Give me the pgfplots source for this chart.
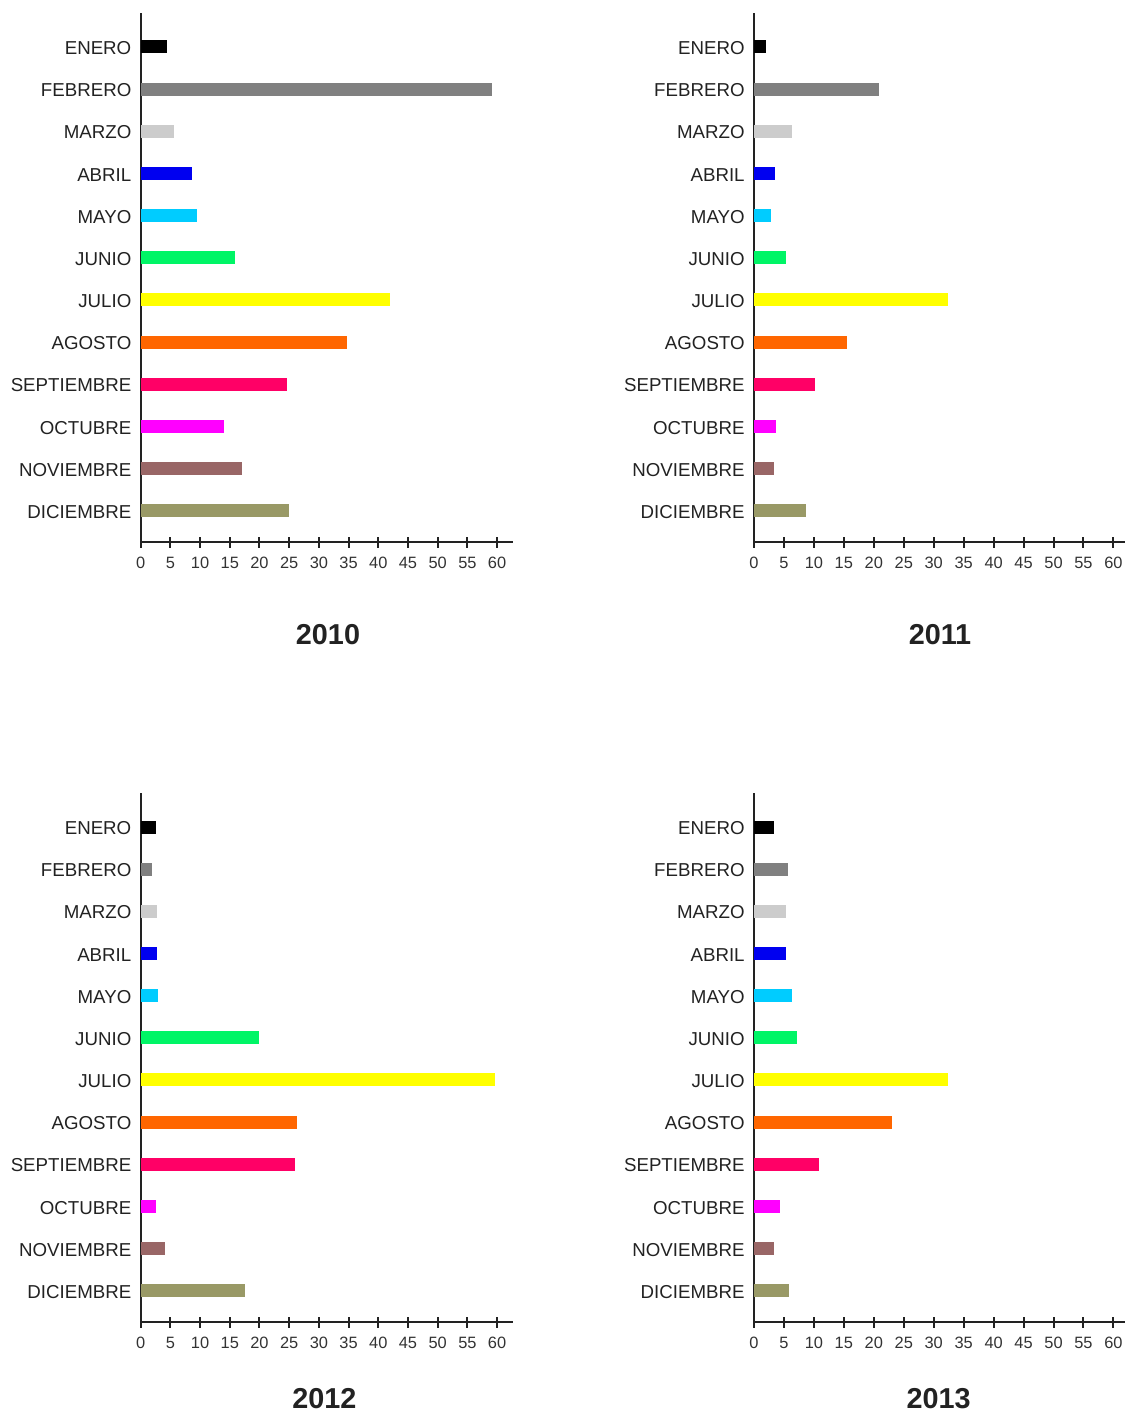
\documentclass[border=0pt]{standalone}
\usepackage{pgfplots}
\pgfplotsset{compat=1.18}
\usepackage{fontspec}
\setmainfont{Liberation Sans}
\definecolor{axc}{HTML}{222222}
\definecolor{lbc}{HTML}{222222}
\definecolor{tkc}{HTML}{333333}
\definecolor{m1}{HTML}{000000}
\definecolor{m2}{HTML}{808080}
\definecolor{m3}{HTML}{CCCCCC}
\definecolor{m4}{HTML}{0000F0}
\definecolor{m5}{HTML}{00CCFF}
\definecolor{m6}{HTML}{00F566}
\definecolor{m7}{HTML}{FFFF00}
\definecolor{m8}{HTML}{FF6600}
\definecolor{m9}{HTML}{FF0066}
\definecolor{m10}{HTML}{FF00FF}
\definecolor{m11}{HTML}{996666}
\definecolor{m12}{HTML}{999966}
\pgfplotsset{
  panel/.style={
    scale only axis, width=#1, height=264.8pt,
    xmin=0, ymin=-0.75, ymax=11.814,
    axis lines=left,
    axis line style={-, line width=1pt, draw=axc},
    clip=false,
    tick align=center, major tick length=5.5pt,
    xtick={0,5,...,60},
    xtick style={line width=1pt, draw=axc},
    ytick={0,...,11},
    ytick style={draw=none},
    yticklabels={DICIEMBRE,NOVIEMBRE,OCTUBRE,SEPTIEMBRE,AGOSTO,JULIO,JUNIO,MAYO,ABRIL,MARZO,FEBRERO,ENERO},
    xticklabel style={font=\fontsize{8.2}{9}\selectfont, text=tkc, anchor=north, inner sep=0pt, yshift=-4.5pt},
    yticklabel style={font=\fontsize{9.35}{11}\selectfont, text=lbc, anchor=east, inner sep=0pt, xshift=-1.75pt, yshift=-0.6pt},
    /pgf/number format/assume math mode=true,
    every axis plot/.append style={xbar, bar width=6.5pt, bar shift=0pt, draw=none},
  },
}
\tikzset{ttl/.style={font=\fontsize{14.4}{16}\selectfont\bfseries, text=lbc, inner sep=0pt, anchor=center}}
\begin{document}
\begin{tikzpicture}
\path[use as bounding box] (0,0) rectangle (563pt,706pt);
% 2010
\begin{axis}[panel=186.15pt, xmax=62.68, at={(70.35pt,434.85pt)}, anchor=south west]
\addplot[fill=m1] coordinates {(4.4,11)};
\addplot[fill=m2] coordinates {(59.1,10)};
\addplot[fill=m3] coordinates {(5.6,9)};
\addplot[fill=m4] coordinates {(8.6,8)};
\addplot[fill=m5] coordinates {(9.4,7)};
\addplot[fill=m6] coordinates {(15.8,6)};
\addplot[fill=m7] coordinates {(42.0,5)};
\addplot[fill=m8] coordinates {(34.8,4)};
\addplot[fill=m9] coordinates {(24.6,3)};
\addplot[fill=m10] coordinates {(14.1,2)};
\addplot[fill=m11] coordinates {(17.1,1)};
\addplot[fill=m12] coordinates {(25.0,0)};
\end{axis}
% 2011
\begin{axis}[panel=185.7pt, xmax=62, at={(377pt,434.85pt)}, anchor=south west]
\addplot[fill=m1] coordinates {(2.0,11)};
\addplot[fill=m2] coordinates {(20.8,10)};
\addplot[fill=m3] coordinates {(6.4,9)};
\addplot[fill=m4] coordinates {(3.5,8)};
\addplot[fill=m5] coordinates {(2.9,7)};
\addplot[fill=m6] coordinates {(5.3,6)};
\addplot[fill=m7] coordinates {(32.4,5)};
\addplot[fill=m8] coordinates {(15.5,4)};
\addplot[fill=m9] coordinates {(10.1,3)};
\addplot[fill=m10] coordinates {(3.6,2)};
\addplot[fill=m11] coordinates {(3.3,1)};
\addplot[fill=m12] coordinates {(8.6,0)};
\end{axis}
% 2012
\begin{axis}[panel=186.15pt, xmax=62.68, at={(70.35pt,44.85pt)}, anchor=south west]
\addplot[fill=m1] coordinates {(2.6,11)};
\addplot[fill=m2] coordinates {(1.9,10)};
\addplot[fill=m3] coordinates {(2.7,9)};
\addplot[fill=m4] coordinates {(2.7,8)};
\addplot[fill=m5] coordinates {(2.9,7)};
\addplot[fill=m6] coordinates {(20.0,6)};
\addplot[fill=m7] coordinates {(59.7,5)};
\addplot[fill=m8] coordinates {(26.3,4)};
\addplot[fill=m9] coordinates {(26.0,3)};
\addplot[fill=m10] coordinates {(2.6,2)};
\addplot[fill=m11] coordinates {(4.1,1)};
\addplot[fill=m12] coordinates {(17.6,0)};
\end{axis}
% 2013
\begin{axis}[panel=185.7pt, xmax=62, at={(377pt,44.85pt)}, anchor=south west]
\addplot[fill=m1] coordinates {(3.4,11)};
\addplot[fill=m2] coordinates {(5.6,10)};
\addplot[fill=m3] coordinates {(5.3,9)};
\addplot[fill=m4] coordinates {(5.3,8)};
\addplot[fill=m5] coordinates {(6.3,7)};
\addplot[fill=m6] coordinates {(7.1,6)};
\addplot[fill=m7] coordinates {(32.4,5)};
\addplot[fill=m8] coordinates {(23.0,4)};
\addplot[fill=m9] coordinates {(10.8,3)};
\addplot[fill=m10] coordinates {(4.4,2)};
\addplot[fill=m11] coordinates {(3.3,1)};
\addplot[fill=m12] coordinates {(5.8,0)};
\end{axis}
\node[ttl] at (164pt,388.5pt) {2010};
\node[ttl] at (470pt,388.5pt) {2011};
\node[ttl] at (162.15pt,6.6pt) {2012};
\node[ttl] at (469.35pt,6.6pt) {2013};
\end{tikzpicture}
\end{document}
